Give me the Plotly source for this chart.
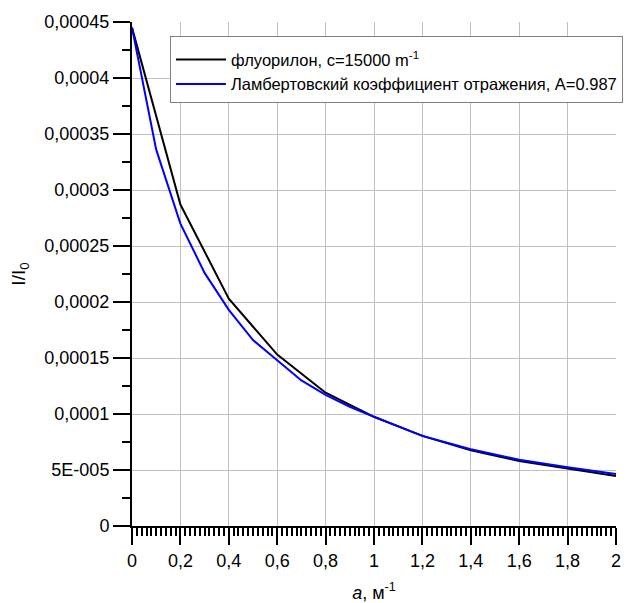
import plotly.graph_objects as go

# Data
x_fluor = [0.0, 0.2, 0.4, 0.6, 0.8, 1.0, 1.2, 1.4, 1.6, 1.8, 2.0]
y_fluor = [0.000445, 0.000287, 0.000203, 0.000153, 0.000119, 0.0000975,
           0.0000805, 0.0000675, 0.0000580, 0.0000512, 0.0000447]

x_lamb = [0.0, 0.1, 0.2, 0.3, 0.4, 0.5, 0.6, 0.7, 0.8, 0.9, 1.0,
          1.2, 1.4, 1.6, 1.8, 2.0]
y_lamb = [0.000445, 0.000336, 0.000270, 0.000226, 0.000193, 0.000166,
          0.000148, 0.000130, 0.000117, 0.0001065, 0.0000975,
          0.0000805, 0.0000685, 0.0000592, 0.0000525, 0.0000465]

name_fluor = "флуорилон, c=15000 m<sup>-1</sup>"
name_lamb = "Ламбертовский коэффициент отражения, A=0.987"

x_tickvals = [0, 0.2, 0.4, 0.6, 0.8, 1.0, 1.2, 1.4, 1.6, 1.8, 2.0]
x_ticktext = ["0", "0,2", "0,4", "0,6", "0,8", "1", "1,2", "1,4", "1,6", "1,8", "2"]
y_tickvals = [0, 0.00005, 0.0001, 0.00015, 0.0002, 0.00025, 0.0003,
              0.00035, 0.0004, 0.00045]
y_ticktext = ["0", "5E-005", "0,0001", "0,00015", "0,0002", "0,00025", "0,0003",
              "0,00035", "0,0004", "0,00045"]

FONT = "Liberation Sans, Arial, sans-serif"

fig = go.Figure()
fig.add_trace(go.Scatter(x=x_fluor, y=y_fluor, mode="lines", name=name_fluor,
                         line=dict(color="#000000", width=2), legendgroup="a"))
fig.add_trace(go.Scatter(x=x_lamb, y=y_lamb, mode="lines", name=name_lamb,
                         line=dict(color="#0000ff", width=2), legendgroup="b"))

axis_common = dict(
    showline=True, linecolor="#000000", linewidth=2,
    ticks="outside", ticklen=17, tickwidth=2, tickcolor="#000000",
    showgrid=True, gridcolor="#c0c0c0", gridwidth=1,
    zeroline=False, mirror=False, automargin=False,
    tickfont=dict(family=FONT, size=18, color="#000000"),
)

fig.update_xaxes(
    **axis_common,
    range=[0, 2],
    tickmode="array", tickvals=x_tickvals, ticktext=x_ticktext,
    minor=dict(dtick=0.02, ticks="outside", ticklen=8, tickwidth=1.5,
               tickcolor="#000000", showgrid=False),
    title=dict(text="<i>a</i>, м<sup>-1</sup>",
               font=dict(family=FONT, size=18, color="#000000"), standoff=18),
)
fig.update_yaxes(
    **axis_common,
    range=[0, 0.00045],
    tickmode="array", tickvals=y_tickvals, ticktext=y_ticktext,
    minor=dict(dtick=0.000025, ticks="outside", ticklen=8, tickwidth=2,
               tickcolor="#000000", showgrid=False),
    title=dict(text="I/I<sub>0</sub>",
               font=dict(family=FONT, size=19, color="#000000"), standoff=15),
)

fig.update_layout(
    width=633, height=595,
    margin=dict(l=124, r=25, t=14, b=77),
    paper_bgcolor="#ffffff", plot_bgcolor="#ffffff",
    font=dict(family=FONT, size=17, color="#000000"),
    showlegend=True,
    legend=dict(x=0.0785, y=0.972, xanchor="left", yanchor="top",
                bgcolor="#ffffff", bordercolor="#808080", borderwidth=1,
                font=dict(family=FONT, size=16.5, color="#000000"),
                title=dict(text="\u00a0", font=dict(size=4)),
                itemwidth=50, tracegroupgap=0),
)

fig.write_html("out.html")
